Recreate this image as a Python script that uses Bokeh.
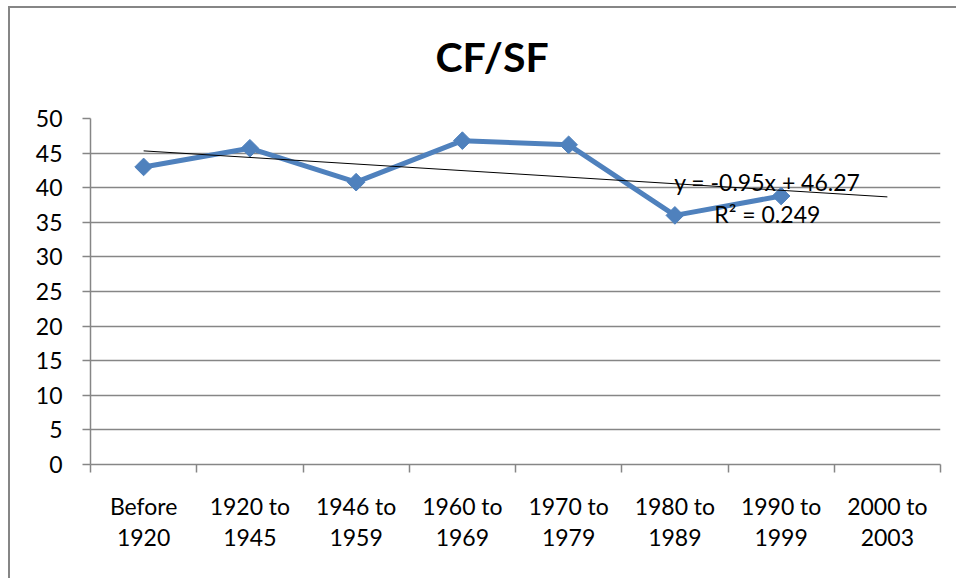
import numpy as np
from bokeh.plotting import figure
from bokeh.models import FixedTicker, Range1d, Label, Title
from bokeh.embed import file_html
from bokeh.resources import INLINE

categories = ["Before\n1920", "1920 to\n1945", "1946 to\n1959", "1960 to\n1969",
              "1970 to\n1979", "1980 to\n1989", "1990 to\n1999", "2000 to\n2003"]
cf_sf = [43.0, 45.7, 40.8, 46.8, 46.2, 36.0, 38.8]
y_ticks = [0, 5, 10, 15, 20, 25, 30, 35, 40, 45, 50]
title_text = "CF/SF"
equation_text = "y = -0.95x + 46.27"
r2_text = "R² = 0.249"

FONT = "Lato"
GRAY = "#868686"
BLUE = "#4F81BD"

xs = list(range(1, len(cf_sf) + 1))
cat_pos = list(range(1, len(categories) + 1))

p = figure(width=948, height=572, output_backend="svg", toolbar_location=None,
           x_range=Range1d(0.5, len(categories) + 0.5), y_range=Range1d(0, 50),
           min_border_left=80, min_border_right=18, min_border_top=110,
           min_border_bottom=116)
p.styles = {"margin-left": "8px", "margin-top": "6px",
            "border-left": "2px solid " + GRAY, "border-top": "2px solid " + GRAY}
p.outline_line_color = None

# spacer between title and plot area, then the title itself
p.add_layout(Title(text=" ", text_font=FONT, text_font_size="30px", standoff=0), "above")
p.add_layout(Title(text=title_text, align="left", offset=345, text_font=FONT,
                   text_font_size="41px", text_font_style="bold", text_color="black",
                   standoff=0), "above")

# trendline (linear fit across categories incl. forecast)
slope, intercept = np.polyfit(xs, cf_sf, 1)
tx = [cat_pos[0], cat_pos[-1]]
ty = [slope * v + intercept for v in tx]

p.line(xs, cf_sf, line_color=BLUE, line_width=5)
p.scatter(xs, cf_sf, marker="square", angle=np.pi / 4, size=12.5,
          fill_color=BLUE, line_color=BLUE)
p.line(tx, ty, line_color="black", line_width=1)

p.add_layout(Label(x=6.87, y=40.8, text=equation_text, text_align="center",
                   text_baseline="middle", text_font=FONT, text_font_size="23px",
                   text_color="black"))
p.add_layout(Label(x=6.87, y=36.2, text=r2_text, text_align="center",
                   text_baseline="middle", text_font=FONT, text_font_size="23px",
                   text_color="black"))

# x axis
p.xaxis.ticker = FixedTicker(ticks=cat_pos, minor_ticks=[v - 0.5 for v in cat_pos] + [cat_pos[-1] + 0.5])
p.xaxis.major_label_overrides = {v: c for v, c in zip(cat_pos, categories)}
p.xaxis.major_tick_line_color = None
p.xaxis.minor_tick_line_color = GRAY
p.xaxis.minor_tick_line_width = 1.5
p.xaxis.minor_tick_out = 8
p.xaxis.minor_tick_in = 0
p.xaxis.axis_line_color = GRAY
p.xaxis.axis_line_width = 1.5
p.xaxis.major_label_text_font = FONT
p.xaxis.major_label_text_font_size = "23px"
p.xaxis.major_label_text_color = "black"
p.xaxis.major_label_text_line_height = 1.12
p.xaxis.major_label_standoff = 19
p.xaxis.major_label_orientation = "horizontal"

# y axis
p.yaxis.ticker = FixedTicker(ticks=y_ticks, minor_ticks=[])
p.yaxis.axis_line_color = GRAY
p.yaxis.axis_line_width = 1.5
p.yaxis.major_tick_line_color = GRAY
p.yaxis.major_tick_line_width = 1.5
p.yaxis.major_tick_out = 8
p.yaxis.major_tick_in = 0
p.yaxis.minor_tick_line_color = None
p.yaxis.major_label_text_font = FONT
p.yaxis.major_label_text_font_size = "23px"
p.yaxis.major_label_text_color = "black"
p.yaxis.major_label_standoff = 20

p.xgrid.grid_line_color = None
p.ygrid.ticker = FixedTicker(ticks=y_ticks)
p.ygrid.grid_line_color = GRAY
p.ygrid.grid_line_width = 1.5

open("out.html", "w").write(file_html(p, INLINE))
